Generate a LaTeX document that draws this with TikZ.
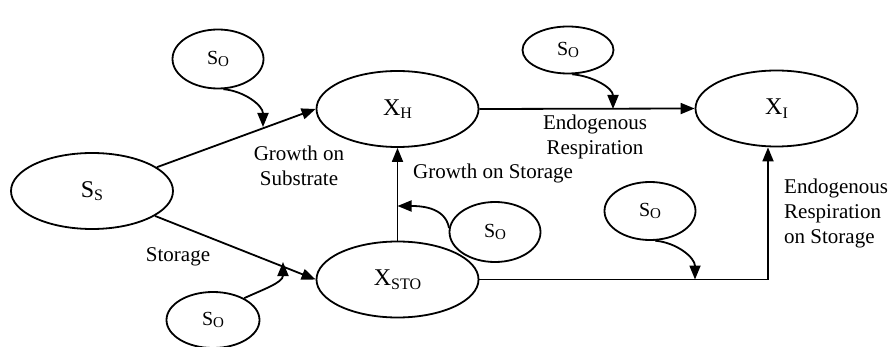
\documentclass[tikz,border=0pt]{standalone}
\usepackage{fontspec}
\setmainfont{Liberation Serif}
\usetikzlibrary{shapes.geometric,arrows.meta}
\newcommand{\mysub}[1]{\raisebox{-3.5pt}{\fontsize{16}{16}\selectfont #1}}
\newcommand{\mysubo}[1]{\raisebox{-2.5pt}{\fontsize{15}{15}\selectfont #1}}
\begin{document}
\begin{tikzpicture}[x=1pt,y=-1pt,
  big/.style={ellipse,draw,line width=1.8pt,inner sep=0pt,minimum width=162pt,minimum height=76pt,font=\fontsize{24}{28}\selectfont},
  small/.style={ellipse,draw,line width=1.8pt,inner sep=0pt,minimum width=91pt,minimum height=59pt,font=\fontsize{20}{24}\selectfont},
  lbl/.style={font=\fontsize{21}{25}\selectfont,inner sep=0pt,align=center},
  flow/.style={line width=1.8pt,-{Triangle[length=14pt,width=11pt]}}
]
\useasboundingbox (0,0) rectangle (893,347);
% main nodes
\node[big] (ss) at (92,191) {S\mysub{S}};
\node[big] (xh) at (397.5,109) {X\mysub{H}};
\node[big] (xi) at (776.5,108.5) {X\mysub{I}};
\node[big] (xsto) at (397.5,279.5) {X\mysub{STO}};
% oxygen nodes
\node[small] (o1) at (218,59) {S\mysubo{O}};
\node[small,minimum height=47pt] (o2) at (568,50) {S\mysubo{O}};
\node[small,minimum height=60pt] (o3) at (495,232) {S\mysubo{O}};
\node[small,minimum height=58pt] (o4) at (650,211) {S\mysubo{O}};
\node[small,minimum height=56pt,minimum width=93pt] (o5) at (213,320) {S\mysubo{O}};
% main connectors
\draw[flow] (ss) -- (xh.west);
\draw[flow] (ss) -- (xsto.west);
\draw[flow] (xh.east) -- (xi.west);
\draw[flow] (xsto.north) -- (xh.south);
\coordinate (corner) at (768,279.5);
\draw[flow] (xsto.east) -- (corner) -- (corner |- xi.south);
% oxygen arrows
\coordinate (t1) at (263,127);
\coordinate (t2) at (613,109);
\coordinate (t3) at (283,262);
\coordinate (t4) at (397.5,206);
\coordinate (t5) at (695,279.5);
\draw[flow] (o1.-80) to[out=-5,in=90] (t1);
\draw[flow] (o2.-80) to[out=-5,in=90] (t2);
\draw[flow] (o4.-80) to[out=-5,in=90] (t5);
\draw[flow] (o3.175) to[out=100,in=0] (t4);
\draw[flow] (o5.35) to[out=25,in=-90] (t3);
% labels
\node[lbl] (l1) at (299,165.5) {Growth on\\Substrate};
\node[lbl] (l2) at (178,257) {Storage};
\node[lbl] (l3) at (493,173) {Growth on Storage};
\node[lbl] (l4) at (595,137) {Endogenous\\Respiration};
\node[lbl,anchor=west,align=left] (l5) at (784,213) {Endogenous\\Respiration\\on Storage};
\end{tikzpicture}
\end{document}
